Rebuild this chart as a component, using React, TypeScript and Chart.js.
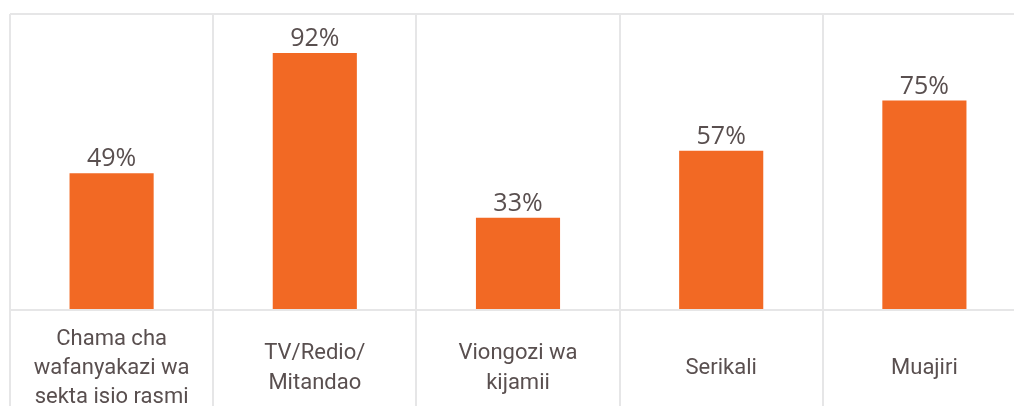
import React, { useEffect, useRef } from "react";
import { Chart, registerables } from "chart.js";

Chart.register(...registerables);

const categories: (string | string[])[] = [
  ["Chama cha", "wafanyakazi wa", "sekta isio rasmi"],
  ["TV/Redio/", "Mitandao"],
  ["Viongozi wa", "kijamii"],
  "Serikali",
  "Muajiri",
];
const values: number[] = [49, 92, 33, 57, 75];
const valueLabels: string[] = ["49%", "92%", "33%", "57%", "75%"];

const BAR_COLOR = "#F26924";
const GRID_COLOR = "#e6e6e7";
const TEXT_COLOR = "#594f4f";

const dataLabelPlugin = {
  id: "dataLabels",
  afterDatasetsDraw(chart: any) {
    const ctx = chart.ctx;
    const meta = chart.getDatasetMeta(0);
    ctx.save();
    ctx.font = "400 25px 'Open Sans'";
    ctx.fillStyle = TEXT_COLOR;
    ctx.textAlign = "center";
    ctx.textBaseline = "alphabetic";
    meta.data.forEach((el: any, i: number) => {
      ctx.fillText(valueLabels[i], el.x, el.y - 7);
    });
    ctx.restore();
  },
};

export default function App() {
  const ref = useRef<HTMLCanvasElement | null>(null);
  useEffect(() => {
    if (!ref.current) return;
    const chart = new Chart(ref.current, {
      type: "bar",
      data: {
        labels: categories,
        datasets: [
          {
            data: values,
            backgroundColor: BAR_COLOR,
            borderWidth: 0,
            barPercentage: 0.414,
            categoryPercentage: 1,
          },
        ],
      },
      options: {
        responsive: false,
        animation: false,
        layout: { padding: { left: 10, right: 14, top: 14, bottom: 0 } },
        plugins: {
          legend: { display: false },
          tooltip: { enabled: false },
        },
        scales: {
          x: {
            grid: {
              offset: true,
              color: GRID_COLOR,
              lineWidth: 2,
              drawTicks: true,
              tickLength: 120,
            },
            border: { display: false },
            ticks: {
              color: TEXT_COLOR,
              font: { family: "Roboto", size: 22, lineHeight: 1.34 },
              padding: -91,
              crossAlign: "center",
              maxRotation: 0,
              minRotation: 0,
              autoSkip: false,
            },
            afterFit: (s: any) => {
              s.height = 96;
            },
          },
          y: {
            min: 0,
            max: 106,
            grid: {
              color: GRID_COLOR,
              lineWidth: 2,
              drawTicks: false,
              tickLength: 0,
            },
            border: { display: false },
            ticks: { display: false },
            afterBuildTicks: (s: any) => {
              s.ticks = [{ value: 0 }, { value: 106 }];
            },
            afterFit: (s: any) => {
              s.width = 0;
            },
          },
        },
      },
      plugins: [dataLabelPlugin],
    });
    return () => chart.destroy();
  }, []);

  return (
    <div
      style={{
        position: "fixed",
        left: 0,
        top: 0,
        width: 1014,
        height: 406,
        overflow: "hidden",
        background: "#fff",
      }}
    >
      <canvas ref={ref} width={1040} height={406} style={{ display: "block" }} />
    </div>
  );
}
